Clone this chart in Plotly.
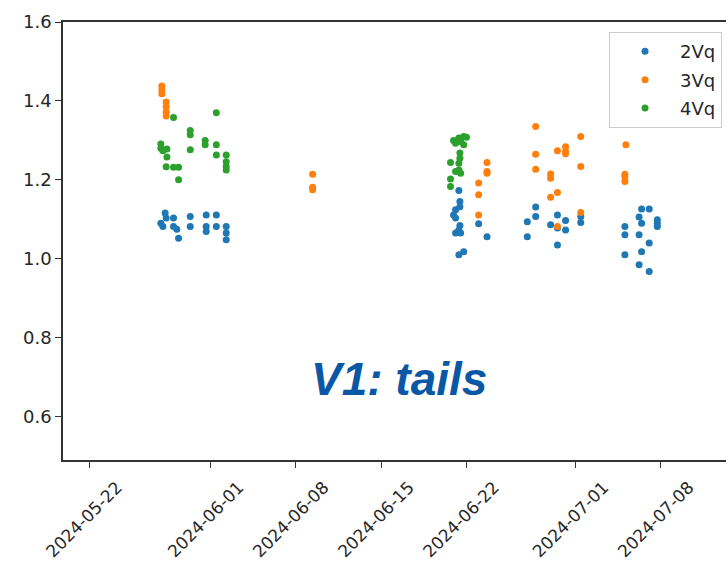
import plotly.graph_objects as go

# 2Vq measurements
dates_2vq = [
    "2024-05-28 06:00", "2024-05-28 08:00", "2024-05-27 21:30", "2024-05-28 01:30",
    "2024-05-28 22:30", "2024-05-28 22:30", "2024-05-29 05:00", "2024-05-29 08:30",
    "2024-05-30 07:30", "2024-05-30 07:30", "2024-05-31 15:00", "2024-05-31 15:00",
    "2024-05-31 15:00", "2024-06-01 11:00", "2024-06-01 11:00", "2024-06-02 06:30",
    "2024-06-02 06:30", "2024-06-02 06:30",
    "2024-06-21 09:30", "2024-06-21 11:30", "2024-06-21 11:30", "2024-06-21 03:00",
    "2024-06-20 23:00", "2024-06-21 03:00", "2024-06-21 11:30", "2024-06-21 09:30",
    "2024-06-21 03:00", "2024-06-21 13:00", "2024-06-23 00:30", "2024-06-23 17:00",
    "2024-06-21 09:30", "2024-06-21 19:00",
    "2024-06-27 17:00", "2024-06-27 17:00", "2024-06-27 00:30", "2024-06-27 00:30",
    "2024-06-28 22:30", "2024-06-29 12:00", "2024-06-30 04:00", "2024-06-30 04:00",
    "2024-06-29 12:00", "2024-07-01 10:00", "2024-07-01 10:00", "2024-06-29 12:00",
    "2024-07-06 10:00", "2024-07-07 01:00", "2024-07-06 05:00", "2024-07-06 10:00",
    "2024-07-07 17:00", "2024-07-07 17:00", "2024-07-07 17:00", "2024-07-05 01:00",
    "2024-07-05 01:00", "2024-07-06 05:00", "2024-07-07 01:00", "2024-07-05 01:00",
    "2024-07-06 10:00", "2024-07-06 05:00", "2024-07-07 01:00",
]
values_2vq = [
    1.116, 1.103, 1.090, 1.082, 1.103, 1.082, 1.075, 1.052, 1.107, 1.082,
    1.111, 1.082, 1.069, 1.111, 1.082, 1.082, 1.065, 1.048,
    1.173, 1.145, 1.132, 1.124, 1.111, 1.103, 1.084, 1.073, 1.065, 1.065,
    1.089, 1.056, 1.010, 1.018,
    1.131, 1.107, 1.094, 1.056, 1.086, 1.111, 1.097, 1.073, 1.035, 1.107,
    1.092, 1.078,
    1.126, 1.126, 1.106, 1.090, 1.099, 1.090, 1.082, 1.082, 1.061, 1.061,
    1.040, 1.010, 1.018, 0.985, 0.968,
]

# 3Vq measurements
dates_3vq = [
    "2024-05-27 23:30", "2024-05-27 23:30", "2024-05-27 23:30", "2024-05-28 08:00",
    "2024-05-28 08:00", "2024-05-28 08:00", "2024-05-28 08:00",
    "2024-06-09 09:00", "2024-06-09 09:00", "2024-06-09 09:00",
    "2024-06-23 17:00", "2024-06-23 17:00", "2024-06-23 17:00", "2024-06-23 00:30",
    "2024-06-23 00:30", "2024-06-23 00:30",
    "2024-06-27 17:00", "2024-07-01 10:00", "2024-06-29 12:00", "2024-06-30 04:00",
    "2024-06-30 04:00", "2024-06-30 04:00", "2024-06-27 17:00", "2024-06-27 17:00",
    "2024-07-01 10:00", "2024-06-28 22:30", "2024-06-28 22:30", "2024-06-29 12:00",
    "2024-06-28 22:30", "2024-07-01 10:00", "2024-06-29 12:00",
    "2024-07-05 03:00", "2024-07-05 01:00", "2024-07-05 01:00", "2024-07-05 01:00",
]
values_3vq = [
    1.438, 1.428, 1.418, 1.397, 1.385, 1.372, 1.362,
    1.214, 1.181, 1.175,
    1.244, 1.221, 1.217, 1.192, 1.162, 1.111,
    1.335, 1.310, 1.274, 1.284, 1.272, 1.266, 1.265, 1.227, 1.234, 1.215,
    1.204, 1.168, 1.156, 1.117, 1.082,
    1.289, 1.214, 1.207, 1.196,
]

# 4Vq measurements
dates_4vq = [
    "2024-05-28 22:30", "2024-06-01 11:00", "2024-05-30 07:30", "2024-05-30 07:30",
    "2024-05-31 13:00", "2024-05-31 13:00", "2024-06-01 11:00", "2024-05-27 21:30",
    "2024-05-27 21:30", "2024-05-28 01:30", "2024-05-28 09:30", "2024-05-30 07:30",
    "2024-06-01 11:00", "2024-06-02 06:30", "2024-06-02 06:30", "2024-06-02 06:30",
    "2024-06-02 06:30", "2024-05-28 09:30", "2024-05-28 08:00", "2024-05-28 22:30",
    "2024-05-29 08:30", "2024-05-29 08:30",
    "2024-06-20 23:00", "2024-06-21 09:30", "2024-06-21 19:00", "2024-06-22 00:30",
    "2024-06-21 19:00", "2024-06-21 13:00", "2024-06-21 03:00", "2024-06-21 11:30",
    "2024-06-21 11:30", "2024-06-20 17:00", "2024-06-21 09:30", "2024-06-21 09:30",
    "2024-06-21 03:00", "2024-06-21 13:00", "2024-06-20 17:00", "2024-06-20 17:00",
]
values_4vq = [
    1.358, 1.370, 1.325, 1.314, 1.300, 1.289, 1.289, 1.291, 1.280, 1.274,
    1.278, 1.276, 1.263, 1.263, 1.246, 1.234, 1.225, 1.258, 1.233, 1.232,
    1.232, 1.200,
    1.300, 1.306, 1.310, 1.308, 1.289, 1.297, 1.293, 1.268, 1.255, 1.244,
    1.242, 1.225, 1.221, 1.217, 1.202, 1.183,
]

x_ticks = ["2024-05-22", "2024-06-01", "2024-06-08", "2024-06-15",
           "2024-06-22", "2024-07-01", "2024-07-08"]
y_ticks = [0.6, 0.8, 1.0, 1.2, 1.4, 1.6]

series = [
    ("2Vq", dates_2vq, values_2vq, "#1f77b4"),
    ("3Vq", dates_3vq, values_3vq, "#ff7f0e"),
    ("4Vq", dates_4vq, values_4vq, "#2ca02c"),
]

fig = go.Figure()
for name, xs, ys, color in series:
    fig.add_trace(go.Scatter(
        x=xs, y=ys, mode="markers", name=name, legendgroup=name,
        marker=dict(size=7, color=color, line=dict(width=0)),
    ))

font = "DejaVu Sans"
axis_style = dict(
    showgrid=False, zeroline=False, automargin=False,
    showline=True, linecolor="#333333", linewidth=1.6,
    ticks="outside", ticklen=6, tickcolor="#333333", tickwidth=1.4,
)
fig.update_layout(
    width=726, height=565,
    margin=dict(l=63, r=0, t=22, b=105),
    paper_bgcolor="white", plot_bgcolor="white",
    font=dict(family=font, size=18, color="#262626"),
    showlegend=True,
    legend=dict(
        x=0.994, y=0.977, xanchor="right", yanchor="top",
        bgcolor="white", bordercolor="#cccccc", borderwidth=1,
        font=dict(family=font, size=18, color="#262626"),
        tracegroupgap=2, itemwidth=60,
    ),
    xaxis=dict(
        type="date",
        range=["2024-05-19 20:30", "2024-07-13 08:30"],
        tickvals=x_ticks, ticktext=x_ticks, tickangle=-45,
        tickfont=dict(family=font, size=17, color="#262626"),
        mirror=True, ticklabelshift=28, ticklabelstandoff=3,
        **axis_style,
    ),
    yaxis=dict(
        range=[0.49, 1.6],
        tickvals=y_ticks, tickformat=".1f",
        **axis_style,
    ),
    annotations=[dict(
        text="<b><i>V1: tails</i></b>", xref="paper", yref="paper",
        x=0.507, y=0.186, xanchor="center", yanchor="middle", showarrow=False,
        font=dict(family="Liberation Sans", size=46, color="#0a57a5"),
    )],
)

fig.write_html("out.html")
